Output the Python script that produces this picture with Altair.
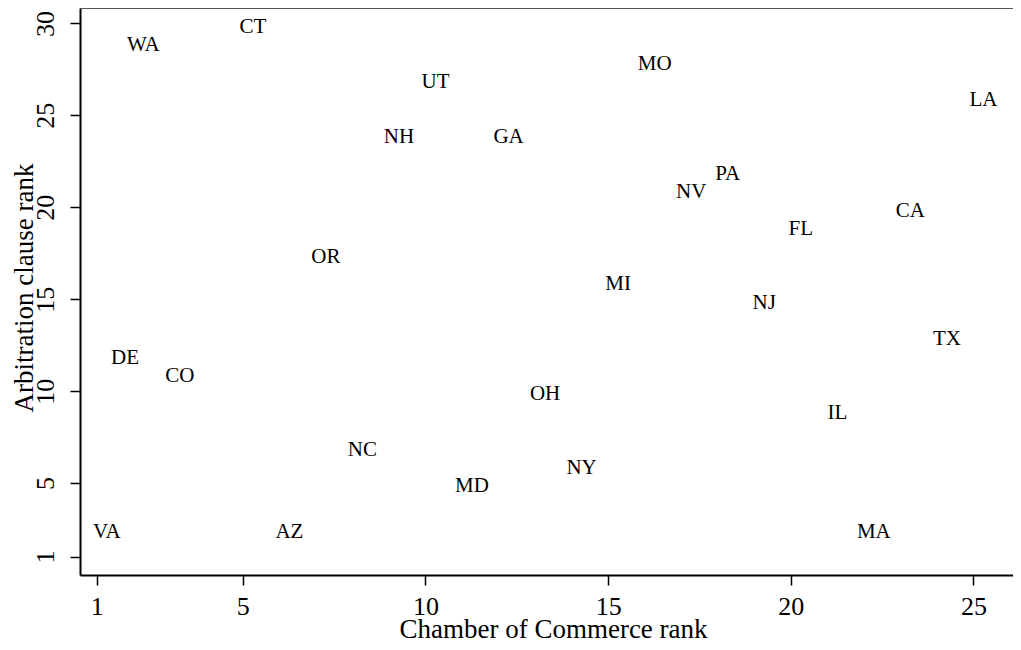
import altair as alt
import pandas as pd

states = ["VA", "AZ", "MA", "MD", "NY", "NC", "IL", "OH", "CO", "DE", "TX", "NJ", "MI",
          "OR", "FL", "CA", "NV", "PA", "NH", "GA", "LA", "UT", "MO", "WA", "CT"]
chamber_rank = [1, 6, 22, 11, 14, 8, 21, 13, 3, 1.5, 24, 19, 15,
                7, 20, 23, 17, 18, 9, 12, 25, 10, 16, 2, 5]
arbitration_rank = [2.5, 2.5, 2.5, 5, 6, 7, 9, 10, 11, 12, 13, 15, 16,
                    17.5, 19, 20, 21, 22, 24, 24, 26, 27, 28, 29, 30]
x_ticks = [1, 5, 10, 15, 20, 25]
y_ticks = [1, 5, 10, 15, 20, 25, 30]

df = pd.DataFrame({"state": states, "chamber": chamber_rank, "arb": arbitration_rank})

W, H = 933, 567
FONT = "Liberation Serif"

text = alt.Chart(df).mark_text(
    font=FONT, fontSize=21, color="black", align="center",
    baseline="alphabetic", dx=10, dy=9.3
).encode(
    x=alt.X("chamber:Q",
            scale=alt.Scale(domain=[0.542, 26.083], nice=False, zero=False),
            axis=alt.Axis(values=x_ticks, title="Chamber of Commerce rank", grid=False,
                          domainColor="black", domainWidth=2, tickColor="black",
                          tickWidth=1.5, tickSize=10, labelFont=FONT, labelFontSize=26,
                          labelColor="black", labelBaseline="alphabetic", labelPadding=29,
                          labelFlush=False, labelOverlap=False,
                          titleFont=FONT, titleFontSize=27, titleFontWeight="normal",
                          titleColor="black", titleBaseline="alphabetic", titleAlign="center",
                          titleX=473, titleY=62)),
    y=alt.Y("arb:Q",
            scale=alt.Scale(domain=[0, 30.84], nice=False, zero=False),
            axis=alt.Axis(values=y_ticks, title="Arbitration clause rank", grid=False,
                          domainColor="black", domainWidth=2, tickColor="black",
                          tickWidth=1.5, tickSize=10, labelFont=FONT, labelFontSize=26,
                          labelColor="black", labelAngle=270, labelAlign="center",
                          labelBaseline="alphabetic", labelPadding=17,
                          labelFlush=False, labelOverlap=False,
                          titleFont=FONT, titleFontSize=27, titleFontWeight="normal",
                          titleColor="black", titleAngle=270, titleBaseline="alphabetic",
                          titleAlign="center", titleX=-48, titleY=279.5)),
    text="state:N",
)

top_line = alt.Chart(pd.DataFrame({"a": [0]})).mark_rule(
    color="#555555", strokeWidth=2
).encode(x=alt.value(0), x2=alt.value(W), y=alt.value(0))

chart = alt.layer(text, top_line).properties(
    width=W, height=H,
    autosize=alt.AutoSizeParams(type="none"),
    padding={"left": 72, "top": 0, "right": 0, "bottom": 67},
    background="white",
).configure_view(stroke=None)

chart.save("out.html", embed_options={"renderer": "svg", "actions": False})
